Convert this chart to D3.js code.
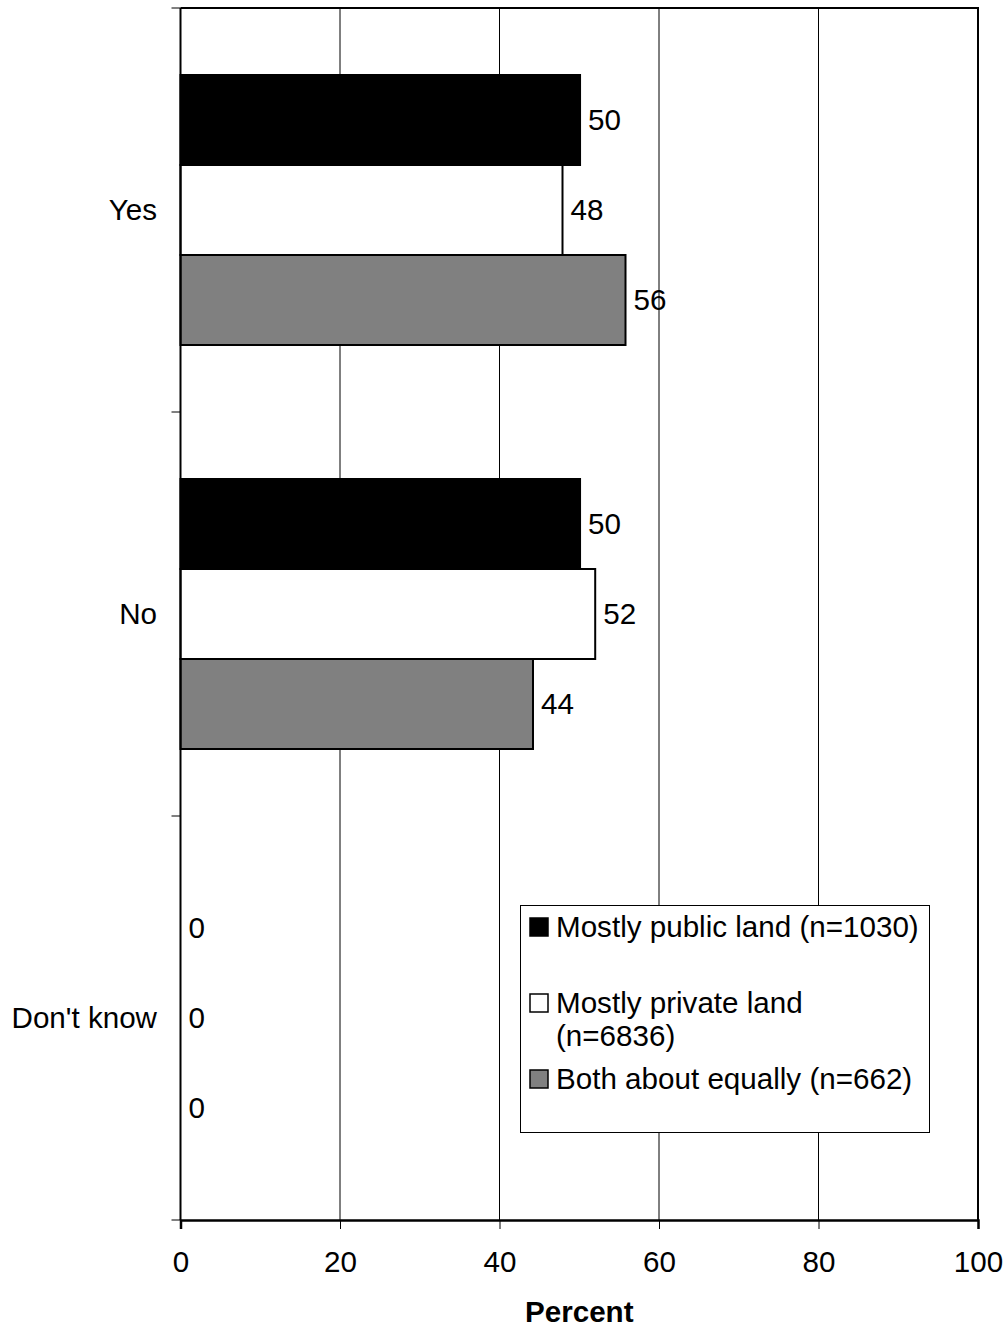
<!DOCTYPE html>
<html>
<head>
<meta charset="utf-8">
<script src="https://cdn.jsdelivr.net/npm/d3@7"></script>
<style>
  html, body { margin: 0; padding: 0; background: #fff; }
  svg { display: block; font-family: "Liberation Sans", Arial, sans-serif; }
</style>
</head>
<body>
<svg id="chart" width="1008" height="1328"></svg>
<script>
const categories = ["Yes", "No", "Don't know"];
const seriesNames = ["Mostly public land (n=1030)", "Mostly private land (n=6836)", "Both about equally (n=662)"];
const seriesLegendLines = [["Mostly public land (n=1030)"], ["Mostly private land", "(n=6836)"], ["Both about equally (n=662)"]];
const publicLand = [50.1, 50.1, 0];
const privateLand = [47.9, 52.0, 0];
const bothEqually = [55.8, 44.2, 0];
const xTicks = [0, 20, 40, 60, 80, 100];
const seriesFills = ["#000000", "#ffffff", "#808080"];

const seriesValues = [publicLand, privateLand, bothEqually];

const svg = d3.select("#chart");
const L = 180.5, R = 978, T = 8, B = 1220;
const FS = 29.6;

const x = d3.scaleLinear().domain([0, 100]).range([L, R]);
const y = d3.scaleBand().domain(categories).range([T, B]).padding(0);
const inner = d3.scaleBand().domain(d3.range(seriesNames.length)).range([67, y.bandwidth() - 67]).padding(0);

// gridlines
svg.append("g").selectAll("line").data(xTicks.slice(1, -1)).join("line")
  .attr("x1", d => x(d)).attr("x2", d => x(d))
  .attr("y1", T).attr("y2", B)
  .attr("stroke", "#000").attr("stroke-width", 1);

// bars
const rows = [];
categories.forEach((c, ci) => {
  seriesValues.forEach((vals, si) => rows.push({ c, si, v: vals[ci] }));
});

svg.append("g").selectAll("rect").data(rows).join("rect")
  .attr("x", x(0))
  .attr("y", d => y(d.c) + inner(d.si))
  .attr("width", d => x(d.v) - x(0))
  .attr("height", inner.bandwidth())
  .attr("fill", d => seriesFills[d.si])
  .attr("stroke", "#000").attr("stroke-width", 2);

// value labels
svg.append("g").selectAll("text").data(rows).join("text")
  .attr("x", d => x(d.v) + 8)
  .attr("y", d => y(d.c) + inner(d.si) + inner.bandwidth() / 2)
  .attr("dy", "0.35em")
  .attr("font-size", FS)
  .attr("fill", "#000")
  .text(d => d3.format(".0f")(d.v));

// frame (top and right)
svg.append("path")
  .attr("d", `M${L},${T}H${R}V${B}`)
  .attr("fill", "none").attr("stroke", "#000").attr("stroke-width", 2);

// left axis
const yTickPos = [T].concat(categories.map(c => y(c) + y.bandwidth()));
svg.append("line").attr("x1", L).attr("x2", L).attr("y1", T).attr("y2", B)
  .attr("stroke", "#000").attr("stroke-width", 2);
svg.append("g").selectAll("line").data(yTickPos).join("line")
  .attr("x1", L - 9).attr("x2", L).attr("y1", d => d).attr("y2", d => d)
  .attr("stroke", "#000").attr("stroke-width", 1);
svg.append("g").selectAll("text").data(categories).join("text")
  .attr("x", 157)
  .attr("y", d => y(d) + y.bandwidth() / 2)
  .attr("dy", "0.35em")
  .attr("text-anchor", "end")
  .attr("font-size", FS)
  .text(d => d);

// bottom axis
const xAxis = d3.axisBottom(x).tickValues(xTicks).tickSize(9).tickPadding(22).tickFormat(d3.format("d"));
const gx = svg.append("g").attr("transform", `translate(0,${B})`).call(xAxis);
gx.select(".domain").attr("stroke", "#000").attr("stroke-width", 2.5);
gx.selectAll(".tick line").attr("stroke", "#000").attr("stroke-width", 1);
gx.selectAll(".tick text").attr("font-size", FS).attr("fill", "#000")
  .attr("font-family", "'Liberation Sans', Arial, sans-serif");

svg.append("text")
  .attr("x", (L + R) / 2).attr("y", 1322)
  .attr("text-anchor", "middle")
  .attr("font-size", FS).attr("font-weight", "bold")
  .text("Percent");

// legend
const lg = svg.append("g");
lg.append("rect").attr("x", 520.5).attr("y", 905.5).attr("width", 409).attr("height", 227)
  .attr("fill", "#fff").attr("stroke", "#000").attr("stroke-width", 1);
const legendBaselines = [[937], [1013, 1046], [1089]];
seriesLegendLines.forEach((lines, i) => {
  lg.append("rect")
    .attr("x", 530).attr("y", legendBaselines[i][0] - 19)
    .attr("width", 18).attr("height", 18)
    .attr("fill", seriesFills[i]).attr("stroke", "#000").attr("stroke-width", 1.5);
  lines.forEach((t, j) => {
    lg.append("text")
      .attr("x", 556).attr("y", legendBaselines[i][j] + 0)
      .attr("font-size", FS)
      .text(t);
  });
});
</script>
</body>
</html>
